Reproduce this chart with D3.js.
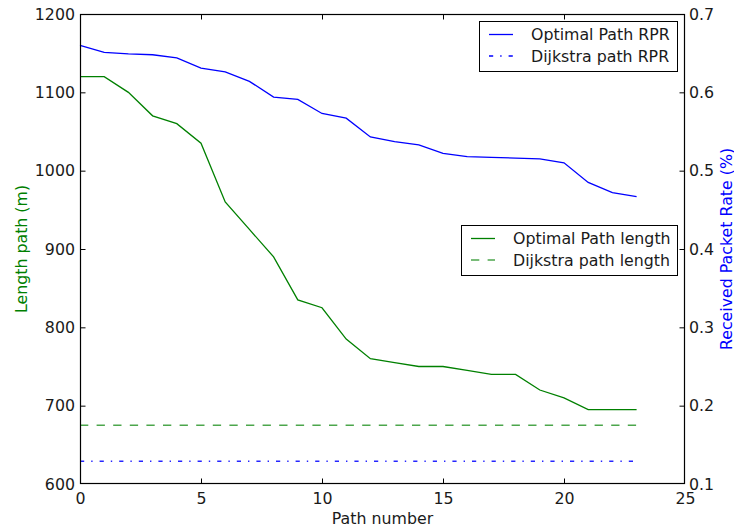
<!DOCTYPE html>
<html>
<head>
<meta charset="utf-8">
<script src="https://cdn.jsdelivr.net/npm/d3@7"></script>
<style>
  html, body { margin: 0; padding: 0; background: #fff; }
  svg { display: block; font-family: "DejaVu Sans", sans-serif; }
</style>
</head>
<body>
<svg id="chart" width="734" height="530"></svg>
<script>
const pathNumbers = d3.range(0, 24);
const optimalLength = [1120, 1120, 1100, 1070, 1060, 1035, 960, 925, 890, 835, 825, 785, 760, 755, 750, 750, 745, 740, 740, 720, 710, 695, 695, 695];
const dijkstraLength = 675;
const optimalRPR = [0.660, 0.651, 0.649, 0.648, 0.644, 0.631, 0.626, 0.614, 0.594, 0.591, 0.573, 0.567, 0.543, 0.537, 0.533, 0.522, 0.518, 0.517, 0.516, 0.515, 0.510, 0.485, 0.472, 0.467];
const dijkstraRPR = 0.129;
const xTicks = [0, 5, 10, 15, 20, 25];
const leftTicks = [600, 700, 800, 900, 1000, 1100, 1200];
const rightTicks = [0.1, 0.2, 0.3, 0.4, 0.5, 0.6, 0.7];

const svg = d3.select("#chart");
const L = 80, R = 685, T = 14, B = 484;
const x = d3.scaleLinear().domain([0, 25]).range([L, R]);
const yL = d3.scaleLinear().domain([600, 1200]).range([B, T]);
const yR = d3.scaleLinear().domain([0.1, 0.7]).range([B, T]);

const GREEN = "#008000", BLUE = "#0000ff", TXT = "#1a1a1a";
const FS = "15.8px";

const lineL = d3.line().x((d, i) => x(pathNumbers[i])).y(d => yL(d));
const lineR = d3.line().x((d, i) => x(pathNumbers[i])).y(d => yR(d));

svg.append("path").datum(pathNumbers.map(() => dijkstraLength))
  .attr("d", lineL).attr("fill", "none").attr("stroke", GREEN).attr("stroke-opacity", 0.7)
  .attr("stroke-width", 1.5).attr("stroke-dasharray", "8.3,8.3");
svg.append("path").datum(optimalLength)
  .attr("d", lineL).attr("fill", "none").attr("stroke", GREEN).attr("stroke-width", 1.3);

svg.append("path").datum(pathNumbers.map(() => dijkstraRPR))
  .attr("d", lineR).attr("fill", "none").attr("stroke", BLUE).attr("stroke-opacity", 0.85)
  .attr("stroke-width", 1.5).attr("stroke-dasharray", "4.2,7,1.4,7");
svg.append("path").datum(optimalRPR)
  .attr("d", lineR).attr("fill", "none").attr("stroke", BLUE).attr("stroke-width", 1.3);

svg.append("rect").attr("x", L + 0.5).attr("y", T + 0.5).attr("width", R - L - 1).attr("height", B - T - 1)
  .attr("fill", "none").attr("stroke", "#000").attr("stroke-width", 1.2);

const tickLen = 5.5;
const xAxis = d3.axisBottom(x).tickValues(xTicks).tickSizeInner(-tickLen).tickSizeOuter(0).tickPadding(9).tickFormat(d3.format("d"));
const gx = svg.append("g").attr("transform", `translate(0,${B})`).call(xAxis);
const xTop = d3.axisTop(x).tickValues(xTicks).tickSizeInner(-tickLen).tickSizeOuter(0).tickFormat("");
const gxt = svg.append("g").attr("transform", `translate(0,${T})`).call(xTop);

const yAxisL = d3.axisLeft(yL).tickValues(leftTicks).tickSizeInner(-tickLen).tickSizeOuter(0).tickPadding(5).tickFormat(d3.format("d"));
const gyl = svg.append("g").attr("transform", `translate(${L},0)`).call(yAxisL);
const yAxisR = d3.axisRight(yR).tickValues(rightTicks).tickSizeInner(-tickLen).tickSizeOuter(0).tickPadding(4).tickFormat(d3.format(".1f"));
const gyr = svg.append("g").attr("transform", `translate(${R},0)`).call(yAxisR);

[gx, gxt, gyl, gyr].forEach(g => {
  g.select(".domain").remove();
  g.selectAll(".tick line").attr("stroke", "#000").attr("stroke-width", 1);
  g.selectAll(".tick text").attr("fill", TXT).style("font-size", FS).style("font-family", "DejaVu Sans");
});
gyl.selectAll(".tick line").filter(d => d === 600 || d === 1200).remove();
gyr.selectAll(".tick line").filter(d => d === 0.1 || d === 0.7).remove();
gx.selectAll(".tick line").filter(d => d === 0 || d === 25).remove();
gxt.selectAll(".tick line").filter(d => d === 0 || d === 25).remove();

svg.append("text").attr("x", (L + R) / 2).attr("y", 524).attr("text-anchor", "middle")
  .attr("fill", TXT).style("font-size", FS).text("Path number");
svg.append("text").attr("transform", `translate(21,${(T + B) / 2}) rotate(-90)`).attr("text-anchor", "middle")
  .attr("dominant-baseline", "central")
  .attr("fill", GREEN).style("font-size", FS).text("Length path (m)");
svg.append("text").attr("transform", `translate(726,${(T + B) / 2}) rotate(-90)`).attr("text-anchor", "middle")
  .attr("dominant-baseline", "central")
  .attr("fill", BLUE).style("font-size", FS).text("Received Packet Rate (%)");

function legend(x0, y0, w, h, items) {
  const g = svg.append("g");
  g.append("rect").attr("x", x0 + 0.5).attr("y", y0 + 0.5).attr("width", w).attr("height", h)
    .attr("fill", "#fff").attr("stroke", "#000").attr("stroke-width", 1);
  items.forEach((it, i) => {
    const cy = y0 + 13.5 + i * 21.5;
    g.append("line").attr("x1", x0 + 10).attr("x2", x0 + 34).attr("y1", cy).attr("y2", cy)
      .attr("stroke", it.color).attr("stroke-width", 1.3).attr("stroke-opacity", it.opacity || 1)
      .attr("stroke-dasharray", it.dash || null);
    g.append("text").attr("x", x0 + 52).attr("y", cy + 5.5).attr("fill", TXT)
      .style("font-size", FS).text(it.label);
  });
}
legend(479, 21, 198, 50, [
  { label: "Optimal Path RPR", color: BLUE },
  { label: "Dijkstra path RPR", color: BLUE, dash: "4.2,7,1.4,7" }
]);
legend(461, 225, 216, 50, [
  { label: "Optimal Path length", color: GREEN },
  { label: "Dijkstra path length", color: GREEN, dash: "8.3,8.3", opacity: 0.7 }
]);
</script>
</body>
</html>
